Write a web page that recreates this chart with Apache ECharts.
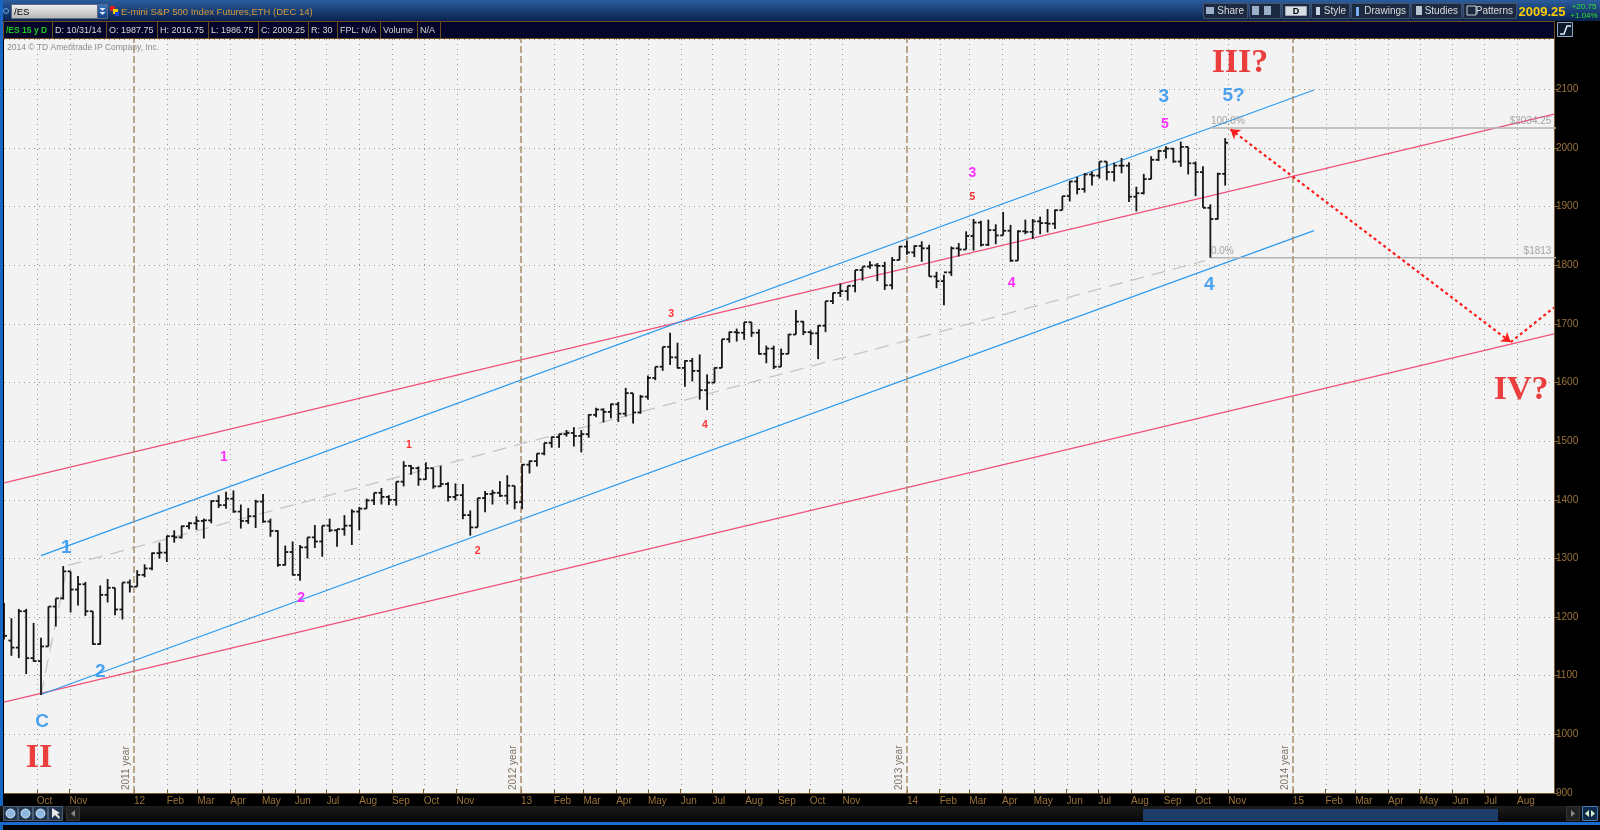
<!DOCTYPE html>
<html>
<head>
<meta charset="utf-8">
<script src="https://cdn.jsdelivr.net/npm/echarts@6/dist/echarts.min.js"></script>
<style>
html, body { margin: 0; padding: 0; background: #000; }
#chartmain { width: 1600px; height: 830px; }
</style>
</head>
<body>
<div id="chartmain"></div>
<script>
// weekly bars of /ES, one row per week [open, high, low, close], first week starts Mon 2011-08-29
var firstWeek = '2011-08-29';
var ohlc2011 = [
	[1170,1224,1162,1168],[1160,1198,1134,1148],[1148,1214,1130,1210],[1210,1214,1103,1130],
	[1130,1190,1124,1125],[1125,1165,1067,1150],[1150,1218,1150,1218],[1218,1232,1184,1232],
	[1232,1287,1230,1278],[1278,1278,1208,1247],[1247,1270,1220,1256],[1256,1260,1202,1210],
	[1210,1210,1153,1154],[1154,1254,1153,1238],[1238,1265,1225,1250],[1250,1250,1203,1213],
	[1213,1259,1196,1259],[1259,1264,1242,1252]
];
var ohlc2012 = [
	[1252,1280,1252,1272],[1272,1290,1268,1283],[1283,1310,1280,1309],[1309,1327,1300,1310],
	[1310,1339,1294,1338],[1338,1348,1327,1336],[1336,1356,1334,1355],[1355,1362,1350,1360],
	[1360,1372,1349,1364],[1364,1368,1334,1365],[1365,1399,1360,1398],[1398,1408,1386,1391],
	[1391,1414,1385,1402],[1402,1416,1378,1380],[1380,1392,1351,1364],[1364,1386,1359,1372],
	[1372,1400,1352,1397],[1397,1410,1361,1363],[1363,1368,1337,1347],[1347,1348,1286,1289],
	[1289,1322,1288,1311],[1311,1329,1271,1272],[1272,1323,1262,1319],[1319,1336,1300,1336],
	[1336,1357,1318,1329],[1329,1356,1303,1356],[1356,1368,1345,1348],[1348,1350,1320,1350],
	[1350,1374,1339,1356],[1356,1384,1323,1380],[1380,1388,1348,1385],[1385,1402,1385,1399],
	[1399,1412,1391,1412],[1412,1420,1392,1405],[1405,1408,1391,1400],[1400,1431,1390,1431],
	[1431,1466,1423,1458],[1458,1459,1443,1454],[1454,1457,1424,1435],[1435,1464,1434,1454],
	[1454,1454,1419,1423],[1423,1458,1422,1427],[1427,1430,1397,1405],[1405,1428,1399,1408],
	[1408,1427,1367,1374],[1374,1382,1339,1353],[1353,1403,1353,1403],[1403,1415,1379,1410],
	[1410,1417,1392,1412],[1412,1432,1405,1407],[1407,1442,1392,1424],[1424,1424,1384,1396],
	[1396,1461,1384,1460]
];
var ohlc2013 = [
	[1460,1467,1445,1466],[1466,1479,1457,1479],[1479,1497,1476,1497],[1497,1508,1489,1507],
	[1507,1512,1489,1512],[1512,1519,1508,1514],[1514,1524,1491,1509],[1509,1519,1481,1512],
	[1512,1546,1506,1545],[1545,1557,1541,1554],[1554,1556,1532,1550],[1550,1564,1539,1563],
	[1563,1567,1533,1547],[1547,1591,1542,1582],[1582,1582,1530,1549],[1549,1579,1547,1576],
	[1576,1612,1571,1608],[1608,1627,1604,1627],[1627,1661,1620,1661],[1661,1685,1630,1643],
	[1643,1668,1624,1625],[1625,1638,1593,1637],[1637,1642,1602,1620],[1620,1648,1571,1587],
	[1587,1614,1553,1600],[1600,1626,1599,1625],[1625,1674,1625,1674],[1674,1687,1668,1686],
	[1686,1692,1670,1685],[1685,1703,1673,1703],[1703,1703,1678,1685],[1685,1691,1648,1649],
	[1649,1663,1633,1658],[1658,1663,1623,1627],[1627,1658,1627,1649],[1649,1683,1649,1682],
	[1682,1724,1682,1704],[1704,1705,1681,1686],[1686,1689,1664,1684],[1684,1698,1640,1697],
	[1697,1739,1686,1739],[1739,1753,1734,1753],[1753,1769,1746,1756],[1756,1765,1740,1765],
	[1765,1792,1754,1792],[1792,1798,1774,1798],[1798,1807,1794,1800],[1800,1804,1773,1799],
	[1799,1806,1758,1766],[1766,1814,1759,1809],[1809,1833,1809,1832],[1832,1842,1818,1822]
];
var ohlc2014 = [
	[1822,1834,1814,1833],[1833,1841,1806,1829],[1829,1835,1781,1781],[1781,1789,1761,1773],
	[1773,1784,1732,1788],[1788,1832,1782,1829],[1829,1838,1815,1827],[1827,1858,1827,1850],
	[1850,1879,1825,1873],[1873,1876,1832,1835],[1835,1878,1833,1860],[1860,1870,1836,1851],
	[1851,1891,1851,1859],[1859,1869,1806,1808],[1808,1860,1808,1858],[1858,1878,1853,1857],
	[1857,1879,1845,1875],[1875,1883,1853,1872],[1872,1896,1856,1871],[1871,1895,1862,1894],
	[1894,1918,1894,1918],[1918,1944,1909,1943],[1943,1951,1921,1930],[1930,1957,1924,1955],
	[1955,1960,1936,1953],[1953,1977,1948,1977],[1977,1977,1945,1959],[1959,1975,1943,1970],
	[1970,1983,1957,1970],[1970,1976,1908,1917],[1917,1934,1892,1923],[1923,1956,1921,1947],
	[1947,1986,1947,1980],[1980,1997,1978,1995],[1995,2003,1982,1999],[1999,2000,1975,1977],
	[1977,2011,1968,2002],[2002,2002,1955,1974],[1974,1977,1918,1959],[1959,1969,1898,1898],
	[1898,1904,1813,1879],[1879,1958,1878,1956],[1956,2017,1936,2009]
];

// month ticks on the time scale (December carries no label in the original)
var tickDates = ['2011-10-01','2011-11-01',
	'2012-01-01','2012-02-01','2012-03-01','2012-04-01','2012-05-01','2012-06-01','2012-07-01','2012-08-01','2012-09-01','2012-10-01','2012-11-01',
	'2013-01-01','2013-02-01','2013-03-01','2013-04-01','2013-05-01','2013-06-01','2013-07-01','2013-08-01','2013-09-01','2013-10-01','2013-11-01',
	'2014-01-01','2014-02-01','2014-03-01','2014-04-01','2014-05-01','2014-06-01','2014-07-01','2014-08-01','2014-09-01','2014-10-01','2014-11-01',
	'2015-01-01','2015-02-01','2015-03-01','2015-04-01','2015-05-01','2015-06-01','2015-07-01','2015-08-01'];
var tickLabels = ['Oct','Nov',
	'12','Feb','Mar','Apr','May','Jun','Jul','Aug','Sep','Oct','Nov',
	'13','Feb','Mar','Apr','May','Jun','Jul','Aug','Sep','Oct','Nov',
	'14','Feb','Mar','Apr','May','Jun','Jul','Aug','Sep','Oct','Nov',
	'15','Feb','Mar','Apr','May','Jun','Jul','Aug'];
var yearLineDates = ['2012-01-01','2013-01-01','2014-01-01','2015-01-01'];
var yearLineLabels = ['2011 year','2012 year','2013 year','2014 year'];

// drawn trend lines: [date, price] end points
var blueTop = [['2011-10-05',1305],['2015-01-21',2099]];
var blueBottom = [['2011-10-05',1068],['2015-01-21',1859]];
var pinkTop = [['2011-08-31',1429],['2015-09-05',2058]];
var pinkBottom = [['2011-08-31',1055],['2015-09-05',1683]];
var greyMedian = [['2011-10-05',1068],['2011-10-30',1288],['2014-10-10',1808]];
var fibLevels = [2034.25, 1813];
var fibNames = ['100.0%', '0.0%'];
var fibPriceText = ['$2034.25', '$1813'];
var fibStart = '2014-10-15';
var projection = [['2014-11-03',2032],['2015-07-26',1669],['2015-09-05',1728]];

// wave labels: [text, date, price, kind]
var waveLabels = [
	['C','2011-10-06',1022,'blue'],['1','2011-10-29',1318,'blue'],['2','2011-11-30',1106,'blue'],
	['3','2014-09-01',2087,'blue'],['4','2014-10-14',1766,'blue'],['5?','2014-11-06',2090,'blue'],
	['1','2012-03-26',1473,'magenta'],['2','2012-06-07',1233,'magenta'],['3','2014-03-04',1957,'magenta'],
	['4','2014-04-10',1769,'magenta'],['5','2014-09-02',2040,'magenta'],
	['1','2012-09-17',1493,'red'],['2','2012-11-21',1313,'red'],['3','2013-05-23',1717,'red'],
	['4','2013-06-24',1527,'red'],['5','2014-03-04',1916,'red'],
	['II','2011-10-03',960,'big'],['III?','2014-11-12',2144,'big'],['IV?','2015-08-05',1587,'big']
];

var labelKinds = {
	blue: { color: '#1f8ff0', fontSize: 19, fontWeight: 'bold', fontFamily: 'Liberation Sans, Arial, sans-serif' },
	magenta: { color: '#ff00ff', fontSize: 14, fontWeight: 'bold', fontFamily: 'Liberation Sans, Arial, sans-serif' },
	red: { color: '#ff0000', fontSize: 10.5, fontWeight: 'bold', fontFamily: 'Liberation Sans, Arial, sans-serif' },
	big: { color: '#e81010', fontSize: 34, fontWeight: 'bold', fontFamily: 'Liberation Serif, Times New Roman, serif' }
};

function ts(s) {
	var p = s.split('-');
	return new Date(+p[0], +p[1] - 1, +p[2]).getTime();
}
function pts(arr) {
	return arr.map(function (d) { return [ts(d[0]), d[1]]; });
}

var allBars = ohlc2011.concat(ohlc2012, ohlc2013, ohlc2014);
var w0 = firstWeek.split('-');
var barData = [];
for (var i = 0; i < allBars.length; i++) {
	// bar sits at the middle of its week
	var t = new Date(+w0[0], +w0[1] - 1, +w0[2] + i * 7 + 2).getTime();
	barData.push([t, allBars[i][0], allBars[i][1], allBars[i][2], allBars[i][3]]);
}

var tickTimes = tickDates.map(ts);
var gridTimes = [];
for (var i = 0; i < tickDates.length; i++) {
	if (yearLineDates.indexOf(tickDates[i]) < 0) gridTimes.push([tickTimes[i]]);
}
var xMin = ts('2011-08-31');
var xMax = ts('2015-09-05');
var yMin = 900, yMax = 2186;

function renderOHLC(params, api) {
	var x = api.value(0);
	var pO = api.coord([x, api.value(1)]);
	var pH = api.coord([x, api.value(2)]);
	var pL = api.coord([x, api.value(3)]);
	var pC = api.coord([x, api.value(4)]);
	var w = 3;
	var st = { stroke: '#161616', lineWidth: 1.8 };
	return {
		type: 'group',
		children: [
			{ type: 'line', shape: { x1: pH[0], y1: pH[1], x2: pL[0], y2: pL[1] }, style: st },
			{ type: 'line', shape: { x1: pO[0] - w, y1: pO[1], x2: pO[0], y2: pO[1] }, style: st },
			{ type: 'line', shape: { x1: pC[0], y1: pC[1], x2: pC[0] + w, y2: pC[1] }, style: st }
		]
	};
}

// dotted vertical line per month, snapped to the pixel grid
function renderMonthGrid(params, api) {
	var b = api.coord([api.value(0), yMin]);
	var t = api.coord([api.value(0), yMax]);
	var x = Math.round(b[0]) + 0.5;
	return {
		type: 'line',
		shape: { x1: x, y1: t[1], x2: x, y2: b[1] },
		style: { stroke: '#969696', lineWidth: 1, lineDash: [1, 4] }
	};
}

function trendLine(name, data, color, width, type, z) {
	return {
		name: name, type: 'line', data: pts(data), symbol: 'none', silent: true, z: z || 3,
		lineStyle: { color: color, width: width, type: type || 'solid' }
	};
}

var brown = '#9c7438';
var uiFont = 'Liberation Sans, Arial, sans-serif';
var clear = 'rgba(0,0,0,0)';

var series = [];
series.push({
	name: 'monthGrid', type: 'custom', renderItem: renderMonthGrid, data: gridTimes, z: 1, silent: true,
	encode: { x: 0 }
});
// year lines
series.push({
	name: 'years', type: 'line', data: [[ts('2011-09-01'), 900]], symbol: 'none', z: 1, silent: true,
	lineStyle: { color: clear },
	markLine: {
		silent: true, symbol: ['none', 'none'], animation: false,
		lineStyle: { color: '#a88c6c', type: [7, 3], width: 1.5, opacity: 1 },
		emphasis: { disabled: true },
		label: { show: true, position: 'insideStartTop', color: '#7f7264', fontSize: 10, fontFamily: uiFont, distance: 3 },
		data: yearLineDates.map(function (d, k) { return { xAxis: ts(d), label: { formatter: yearLineLabels[k] } }; })
	}
});
series.push(trendLine('pinkTop', pinkTop, '#f2507a', 1.3));
series.push(trendLine('pinkBottom', pinkBottom, '#f2507a', 1.3));
series.push(trendLine('blueTop', blueTop, '#2d9bf0', 1.3));
series.push(trendLine('blueBottom', blueBottom, '#2d9bf0', 1.3));
series.push(trendLine('median', greyMedian, '#c6c6c6', 1.3, [14, 8]));
fibLevels.forEach(function (lv) {
	series.push(trendLine('fib' + lv, [[fibStart, lv], ['2015-12-31', lv]], '#b4b4b4', 1.6));
});
series.push({
	name: 'bars', type: 'custom', renderItem: renderOHLC, data: barData, clip: true, z: 5,
	encode: { x: 0, y: [1, 2, 3, 4] }, silent: true
});
// projected path with arrows
series.push({
	name: 'projection', type: 'line', data: [[ts('2011-09-01'), 900]], symbol: 'none', z: 6, silent: true,
	lineStyle: { color: clear },
	markLine: {
		silent: true, animation: false, symbolSize: 9,
		label: { show: false },
		emphasis: { disabled: true },
		lineStyle: { color: '#ff1a1a', width: 2.2, type: [3, 3], opacity: 1 },
		data: [
			[{ coord: [ts(projection[0][0]), projection[0][1]], symbol: 'arrow' }, { coord: [ts(projection[1][0]), projection[1][1]], symbol: 'arrow' }],
			[{ coord: [ts(projection[1][0]), projection[1][1]], symbol: 'none' }, { coord: [ts(projection[2][0]), projection[2][1]], symbol: 'none' }]
		]
	}
});
// fib texts
var fibTextData = [];
fibLevels.forEach(function (lv, k) {
	fibTextData.push({ value: [ts(fibStart), lv], label: { formatter: fibNames[k], align: 'left', position: [1, -11] } });
	fibTextData.push({ value: [ts('2015-09-03'), lv], label: { formatter: fibPriceText[k], align: 'right', position: [0, -11] } });
});
series.push({
	name: 'fibText', type: 'scatter', data: fibTextData, symbolSize: 1, itemStyle: { color: clear }, z: 7, silent: true,
	label: { show: true, color: '#8e8e8e', fontSize: 10, fontFamily: uiFont }
});
// wave labels
series.push({
	name: 'waves', type: 'scatter', symbolSize: 1, itemStyle: { color: clear }, z: 8, silent: true,
	label: { show: true, position: 'inside' },
	data: waveLabels.map(function (w) {
		var k = labelKinds[w[3]];
		return {
			value: [ts(w[1]), w[2]],
			label: { formatter: w[0], color: k.color, fontSize: k.fontSize, fontWeight: k.fontWeight, fontFamily: k.fontFamily }
		};
	})
});

// window chrome around the plot
var chrome = [];
function box(x, y, w, h, fill, stroke) {
	chrome.push({ type: 'rect', shape: { x: x, y: y, width: w, height: h }, style: { fill: fill, stroke: stroke || null, lineWidth: 1 }, z: 50 });
}
function txt(x, y, s, color, size, weight, align) {
	chrome.push({ type: 'text', x: x, y: y, style: { text: s, fill: color, fontSize: size, fontWeight: weight || 'normal', fontFamily: uiFont, align: align || 'left', verticalAlign: 'middle' }, z: 51 });
}
function vline(x, y1, y2, color) {
	chrome.push({ type: 'line', shape: { x1: x, y1: y1, x2: x, y2: y2 }, style: { stroke: color, lineWidth: 1 }, z: 51 });
}
box(0, 0, 1600, 21, { type: 'linear', x: 0, y: 0, x2: 0, y2: 1, colorStops: [{ offset: 0, color: '#2a5c9c' }, { offset: 1, color: '#0a2350' }] });
chrome.push({ type: 'circle', shape: { cx: 6, cy: 11, r: 2.5 }, style: { fill: 'none', stroke: '#6aa0e0', lineWidth: 1 }, z: 51 });
box(11.5, 4.5, 86, 14, { type: 'linear', x: 0, y: 0, x2: 0, y2: 1, colorStops: [{ offset: 0, color: '#f0f0f0' }, { offset: 1, color: '#b4b4b4' }] }, '#5a6a80');
txt(14, 12, '/ES', '#000', 9.5);
box(97.5, 4.5, 10, 14, { type: 'linear', x: 0, y: 0, x2: 0, y2: 1, colorStops: [{ offset: 0, color: '#3c78c8' }, { offset: 1, color: '#123a7a' }] }, '#5a6a80');
chrome.push({ type: 'polygon', shape: { points: [[99.5, 8], [105.5, 8], [102.5, 11]] }, style: { fill: '#e0e8ff' }, z: 52 });
chrome.push({ type: 'polygon', shape: { points: [[99.5, 12], [105.5, 12], [102.5, 15]] }, style: { fill: '#e0e8ff' }, z: 52 });
box(110, 6, 5, 5, '#e02020');
box(113, 9, 5, 5, '#f0d000');
box(115, 12, 4, 4, '#2040e0');
txt(121, 12, 'E-mini S&P 500 Index Futures,ETH (DEC 14)', '#d49a3a', 9.5);

var btns = [[1203, 44, 'Share'], [1249, 31, ''], [1282, 27, ''], [1311, 38, 'Style'], [1351, 58, 'Drawings'], [1411, 50, 'Studies'], [1463, 53, 'Patterns']];
btns.forEach(function (b) {
	box(b[0] + 0.5, 3.5, b[1], 15, '#1b2a40', '#44536a');
	if (b[2]) txt(b[0] + b[1] - 3, 11.5, b[2], '#dcdcdc', 10, 'normal', 'right');
});
box(1285.5, 6.5, 21, 9, '#d8dde4', '#9aa6b4');
txt(1296, 11.5, 'D', '#000', 9, 'bold', 'center');
box(1206, 7, 8, 7, '#9ab0c8');
box(1252, 6, 7, 9, '#9ab0c8');
box(1264, 6, 7, 9, '#9ab0c8');
box(1316, 7, 4, 8, '#c8d4e0');
box(1356, 7, 3, 9, '#7ab0f0');
box(1416, 6, 6, 9, '#b8c4d0');
box(1467, 6, 9, 9, 'none', '#c0ccd8');
txt(1542, 12, '2009.25', '#ffcc00', 13, 'bold', 'center');
txt(1584, 7, '+20.75', '#30e030', 8, 'normal', 'center');
txt(1584, 16, '+1.04%', '#30e030', 8, 'normal', 'center');

// quote strip
box(3.5, 21.5, 1551, 17, '#05052b', '#6e4c1f');
var quoteCells = [[6, '/ES 15 y D', '#22c822', 'bold', 8.5], [55, 'D: 10/31/14'], [109, 'O: 1987.75'], [160, 'H: 2016.75'], [211, 'L: 1986.75'], [261, 'C: 2009.25'], [311, 'R: 30'], [340, 'FPL: N/A'], [383, 'Volume'], [420, 'N/A']];
quoteCells.forEach(function (c) {
	txt(c[0], 30.5, c[1], c[2] || '#d6d6d6', c[4] || 9, c[3] || 'normal');
});
[52, 106, 157, 208, 258, 308, 337, 380, 417, 440].forEach(function (x) { vline(x + 0.5, 22, 38, '#6e4c1f'); });
box(1557.5, 22.5, 15, 14, '#0c1a2c', '#90a8c0');
chrome.push({ type: 'polyline', shape: { points: [[1560, 34], [1564, 34], [1567, 26], [1571, 26]] }, style: { stroke: '#e0f0ff', lineWidth: 1.5, fill: 'none' }, z: 52 });

// frame and bottom toolbar
box(0, 0, 3, 830, '#1766c4');
box(0, 806, 1600, 16, { type: 'linear', x: 0, y: 0, x2: 0, y2: 1, colorStops: [{ offset: 0, color: '#1c1c1c' }, { offset: 1, color: '#060606' }] });
box(0, 822, 1600, 3, '#1a6ad0');
[3, 18, 33].forEach(function (x) {
	box(x + 0.5, 806.5, 14, 14, '#22344c', '#4a5e78');
	chrome.push({ type: 'circle', shape: { cx: x + 7.5, cy: 813.5, r: 4.5 }, style: { fill: '#8fb8e0', stroke: '#d0e4f8', lineWidth: 1 }, z: 52 });
});
box(48.5, 806.5, 14, 14, '#22344c', '#4a5e78');
chrome.push({ type: 'polygon', shape: { points: [[52, 808], [52, 818], [55, 815], [59, 819], [60, 817], [57, 814], [60, 813]] }, style: { fill: '#e8e8e8' }, z: 52 });
box(66.5, 806.5, 13, 14, '#222', '#333');
chrome.push({ type: 'polygon', shape: { points: [[75, 810], [71, 813.5], [75, 817]] }, style: { fill: '#888' }, z: 52 });
box(1143, 809, 355, 12, '#1d3c68');
box(1566.5, 806.5, 13, 14, '#222', '#333');
chrome.push({ type: 'polygon', shape: { points: [[1571, 810], [1575, 813.5], [1571, 817]] }, style: { fill: '#888' }, z: 52 });
box(1582.5, 806.5, 15, 14, '#0e2a4a', '#4a78b0');
chrome.push({ type: 'polygon', shape: { points: [[1585, 813.5], [1589, 810], [1589, 817]] }, style: { fill: '#d8f0c8' }, z: 52 });
chrome.push({ type: 'polygon', shape: { points: [[1595, 813.5], [1591, 810], [1591, 817]] }, style: { fill: '#d8f0c8' }, z: 52 });
txt(7, 48, '2014 © TD Ameritrade IP Company, Inc.', '#8c8c8c', 8.5);

var option = {
	animation: false,
	backgroundColor: '#000',
	grid: { left: 4, right: 46, top: 39, bottom: 37, show: true, backgroundColor: '#f3f3f3', borderWidth: 0 },
	xAxis: [{
		type: 'time',
		min: xMin,
		max: xMax,
		axisLine: { show: true, lineStyle: { color: '#7a5a2e', width: 1 } },
		axisTick: { show: false },
		axisLabel: { show: false },
		splitLine: { show: false }
	}, {
		// same span as plain numbers, only to place the month ticks and labels
		type: 'value',
		position: 'bottom',
		min: xMin,
		max: xMax,
		axisLine: { show: false },
		axisTick: { show: true, inside: true, length: 4, customValues: tickTimes, lineStyle: { color: '#7a5a2e' } },
		axisLabel: {
			show: true, customValues: tickTimes, color: brown, fontSize: 10, fontFamily: uiFont, margin: 3, align: 'left',
			formatter: function (v) {
				var k = tickTimes.indexOf(v);
				return k >= 0 ? tickLabels[k] : '';
			}
		},
		splitLine: { show: false }
	}],
	yAxis: {
		type: 'value',
		position: 'right',
		min: yMin,
		max: yMax,
		interval: 100,
		axisLine: { show: true, lineStyle: { color: '#7a5a2e' } },
		axisTick: { show: true, length: 4, lineStyle: { color: '#8a6a3a' } },
		axisLabel: { color: brown, fontSize: 10, fontFamily: uiFont, margin: 2, showMaxLabel: false, formatter: function (v) { return String(v); } },
		splitLine: { show: true, lineStyle: { color: '#a8967c', type: [1, 4], width: 1 } }
	},
	graphic: chrome,
	series: series
};

var myChart = echarts.init(document.getElementById('chartmain'));
myChart.setOption(option);
</script>
</body>
</html>
